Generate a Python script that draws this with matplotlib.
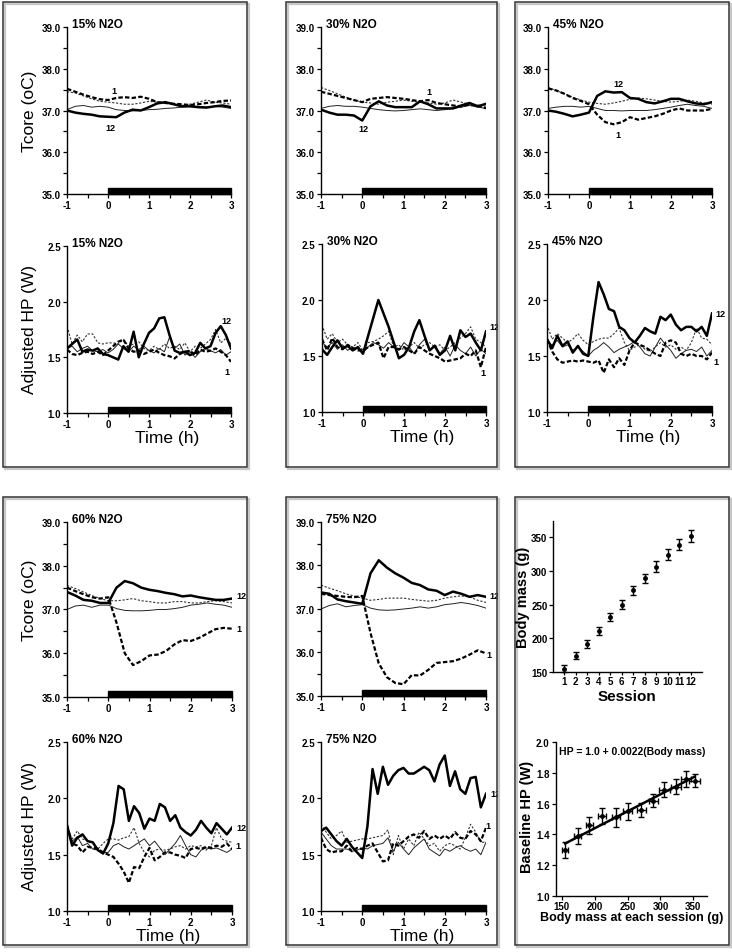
import numpy as np
import matplotlib
matplotlib.use('Agg')
import matplotlib.pyplot as plt
import matplotlib.transforms as mtransforms
from matplotlib.patches import Rectangle

plt.rcParams['font.family'] = ['Liberation Sans', 'DejaVu Sans']
plt.rcParams['axes.unicode_minus'] = False

# ---------------- data ----------------
# time grid of the core temperature traces (h)
t_core = [-1.0, -0.8, -0.6, -0.4, -0.2, 0.0, 0.2, 0.4, 0.6, 0.8, 1.0,
          1.2, 1.4, 1.6, 1.8, 2.0, 2.2, 2.4, 2.6, 2.8, 3.0]
# time grid of the heat production traces (h)
t_hp = [-1.0, -0.875, -0.75, -0.625, -0.5, -0.375, -0.25, -0.125, 0.0,
        0.125, 0.25, 0.375, 0.5, 0.625, 0.75, 0.875, 1.0, 1.125, 1.25,
        1.375, 1.5, 1.625, 1.75, 1.875, 2.0, 2.125, 2.25, 2.375, 2.5,
        2.625, 2.75, 2.875, 3.0]

# s1 = session 1 (thick dashed), s12 = session 12 (thick solid),
# c1 / c12 = thin dashed / thin solid traces
tc15_s1 = [37.52, 37.45, 37.38, 37.32, 37.27, 37.25, 37.30, 37.32, 37.30, 37.33, 37.28,
           37.20, 37.18, 37.16, 37.15, 37.13, 37.15, 37.18, 37.20, 37.23, 37.24]
tc15_c1 = [37.45, 37.42, 37.35, 37.28, 37.22, 37.20, 37.18, 37.15, 37.15, 37.18, 37.22,
           37.20, 37.18, 37.15, 37.12, 37.15, 37.20, 37.25, 37.20, 37.18, 37.15]
tc15_s12 = [37.00, 36.95, 36.92, 36.90, 36.86, 36.85, 36.84, 36.95, 37.02, 37.00, 37.08,
            37.17, 37.20, 37.15, 37.10, 37.10, 37.08, 37.07, 37.10, 37.12, 37.08]
tc15_c12 = [37.02, 37.10, 37.12, 37.08, 37.10, 37.08, 37.02, 37.00, 36.99, 37.00, 37.02,
            37.03, 37.05, 37.06, 37.08, 37.10, 37.10, 37.08, 37.10, 37.08, 37.05]

tc30_s1 = [37.45, 37.40, 37.35, 37.30, 37.25, 37.20, 37.28, 37.30, 37.32, 37.30, 37.28,
           37.25, 37.22, 37.25, 37.18, 37.15, 37.12, 37.10, 37.15, 37.12, 37.05]
tc30_c1 = [37.55, 37.48, 37.40, 37.32, 37.25, 37.20, 37.18, 37.15, 37.20, 37.22, 37.25,
           37.22, 37.20, 37.18, 37.15, 37.18, 37.25, 37.20, 37.15, 37.12, 37.10]
tc30_s12 = [37.02, 36.95, 36.90, 36.90, 36.88, 36.76, 37.10, 37.22, 37.12, 37.08, 37.08,
            37.08, 37.22, 37.15, 37.05, 37.05, 37.05, 37.12, 37.18, 37.10, 37.16]
tc30_c12 = [37.05, 37.10, 37.12, 37.10, 37.10, 37.08, 37.05, 37.02, 37.00, 36.99, 37.00,
            37.02, 37.04, 37.02, 37.00, 37.02, 37.05, 37.08, 37.12, 37.08, 37.05]

tc45_s1 = [37.53, 37.48, 37.40, 37.30, 37.23, 37.15, 36.90, 36.72, 36.67, 36.72, 36.84,
           36.78, 36.82, 36.86, 36.92, 37.00, 37.05, 37.00, 37.00, 37.00, 37.04]
tc45_c1 = [37.55, 37.48, 37.40, 37.32, 37.25, 37.20, 37.17, 37.15, 37.18, 37.22, 37.27,
           37.30, 37.28, 37.25, 37.22, 37.20, 37.22, 37.25, 37.22, 37.18, 37.15]
tc45_s12 = [37.00, 36.97, 36.92, 36.86, 36.90, 36.95, 37.35, 37.46, 37.43, 37.44, 37.30,
            37.28, 37.20, 37.17, 37.22, 37.28, 37.28, 37.22, 37.17, 37.15, 37.20]
tc45_c12 = [37.05, 37.08, 37.10, 37.10, 37.08, 37.10, 37.05, 37.00, 37.00, 36.99, 37.00,
            37.00, 37.00, 37.02, 37.05, 37.08, 37.12, 37.15, 37.12, 37.10, 37.05]

tc60_s1 = [37.50, 37.42, 37.35, 37.28, 37.25, 37.28, 36.70, 36.00, 35.73, 35.82, 35.95,
           35.97, 36.05, 36.20, 36.30, 36.28, 36.35, 36.45, 36.55, 36.58, 36.56]
tc60_c1 = [37.55, 37.48, 37.40, 37.32, 37.25, 37.20, 37.20, 37.22, 37.25, 37.20, 37.18,
           37.15, 37.15, 37.18, 37.18, 37.15, 37.15, 37.18, 37.20, 37.18, 37.15]
tc60_s12 = [37.40, 37.32, 37.22, 37.20, 37.15, 37.15, 37.50, 37.65, 37.60, 37.50, 37.45,
            37.42, 37.38, 37.35, 37.30, 37.32, 37.28, 37.25, 37.22, 37.22, 37.25]
tc60_c12 = [37.00, 37.08, 37.10, 37.05, 37.10, 37.10, 37.02, 36.98, 36.97, 36.97, 36.98,
            37.00, 37.00, 37.02, 37.05, 37.10, 37.12, 37.15, 37.12, 37.10, 37.05]

tc75_s1 = [37.35, 37.32, 37.30, 37.28, 37.27, 37.30, 36.45, 35.75, 35.43, 35.30, 35.27,
           35.48, 35.47, 35.60, 35.76, 35.78, 35.80, 35.86, 35.95, 36.05, 35.98]
tc75_c1 = [37.55, 37.48, 37.42, 37.35, 37.30, 37.25, 37.20, 37.22, 37.25, 37.25, 37.25,
           37.22, 37.20, 37.18, 37.20, 37.25, 37.28, 37.30, 37.28, 37.20, 37.15]
tc75_s12 = [37.38, 37.35, 37.22, 37.18, 37.15, 37.12, 37.82, 38.12, 37.95, 37.82, 37.72,
            37.60, 37.55, 37.45, 37.42, 37.32, 37.40, 37.35, 37.28, 37.32, 37.28]
tc75_c12 = [37.00, 37.08, 37.12, 37.05, 37.08, 37.10, 37.02, 36.98, 36.97, 36.98, 37.00,
            37.02, 37.05, 37.02, 37.05, 37.10, 37.12, 37.15, 37.12, 37.08, 37.02]

hp15_s12 = [1.58, 1.62, 1.66, 1.55, 1.57, 1.56, 1.58, 1.53, 1.52, 1.50, 1.48, 1.60, 1.55, 1.73, 1.50, 1.62, 1.72,
            1.76, 1.85, 1.86, 1.70, 1.56, 1.54, 1.55, 1.52, 1.54, 1.63, 1.58, 1.60, 1.72, 1.78, 1.70, 1.58]
hp15_s1 = [1.57, 1.53, 1.52, 1.54, 1.55, 1.53, 1.55, 1.52, 1.56, 1.60, 1.64, 1.66, 1.58, 1.55, 1.56, 1.53, 1.55,
           1.57, 1.54, 1.52, 1.51, 1.49, 1.53, 1.55, 1.56, 1.52, 1.57, 1.55, 1.56, 1.58, 1.55, 1.52, 1.46]
hp15_c1 = [1.78, 1.62, 1.70, 1.64, 1.71, 1.71, 1.63, 1.62, 1.63, 1.63, 1.62, 1.66, 1.60, 1.62, 1.64, 1.58, 1.56,
           1.60, 1.57, 1.62, 1.58, 1.60, 1.57, 1.63, 1.55, 1.60, 1.58, 1.62, 1.66, 1.75, 1.63, 1.67, 1.62]
hp15_c12 = [1.58, 1.60, 1.55, 1.58, 1.60, 1.56, 1.55, 1.57, 1.54, 1.57, 1.62, 1.58, 1.55, 1.60, 1.57, 1.60, 1.56,
            1.54, 1.58, 1.55, 1.68, 1.58, 1.62, 1.52, 1.55, 1.50, 1.55, 1.58, 1.56, 1.54, 1.57, 1.52, 1.55]

hp30_s12 = [1.56, 1.51, 1.58, 1.64, 1.57, 1.59, 1.55, 1.58, 1.52, 1.68, 1.84, 2.00, 1.88, 1.76, 1.62, 1.48, 1.51,
            1.58, 1.72, 1.82, 1.68, 1.55, 1.59, 1.51, 1.55, 1.68, 1.55, 1.73, 1.67, 1.70, 1.62, 1.55, 1.72]
hp30_s1 = [1.65, 1.55, 1.66, 1.58, 1.56, 1.60, 1.57, 1.55, 1.55, 1.58, 1.60, 1.62, 1.48, 1.58, 1.58, 1.56, 1.58,
           1.55, 1.52, 1.58, 1.55, 1.52, 1.50, 1.48, 1.45, 1.46, 1.47, 1.48, 1.52, 1.50, 1.55, 1.40, 1.58]
hp30_c1 = [1.78, 1.65, 1.70, 1.62, 1.65, 1.60, 1.58, 1.62, 1.55, 1.62, 1.63, 1.65, 1.68, 1.72, 1.58, 1.60, 1.55,
           1.58, 1.62, 1.57, 1.60, 1.62, 1.58, 1.60, 1.55, 1.58, 1.62, 1.66, 1.70, 1.76, 1.65, 1.62, 1.58]
hp30_c12 = [1.62, 1.58, 1.62, 1.56, 1.60, 1.55, 1.58, 1.56, 1.53, 1.58, 1.62, 1.60, 1.57, 1.62, 1.58, 1.55, 1.62,
            1.58, 1.52, 1.60, 1.65, 1.55, 1.60, 1.52, 1.58, 1.50, 1.60, 1.55, 1.52, 1.58, 1.50, 1.56, 1.52]

hp45_s12 = [1.65, 1.57, 1.68, 1.59, 1.63, 1.53, 1.59, 1.52, 1.50, 1.85, 2.16, 2.05, 1.92, 1.90, 1.76, 1.73, 1.66,
            1.62, 1.68, 1.75, 1.72, 1.70, 1.85, 1.82, 1.87, 1.78, 1.73, 1.76, 1.76, 1.72, 1.76, 1.68, 1.88]
hp45_s1 = [1.65, 1.54, 1.47, 1.44, 1.45, 1.46, 1.45, 1.46, 1.45, 1.44, 1.46, 1.35, 1.47, 1.40, 1.48, 1.42, 1.55,
           1.62, 1.60, 1.58, 1.55, 1.52, 1.50, 1.62, 1.64, 1.62, 1.52, 1.50, 1.52, 1.50, 1.50, 1.47, 1.53]
hp45_c1 = [1.78, 1.65, 1.70, 1.66, 1.62, 1.65, 1.70, 1.64, 1.60, 1.63, 1.65, 1.66, 1.66, 1.70, 1.75, 1.62, 1.55,
           1.58, 1.60, 1.56, 1.54, 1.58, 1.62, 1.58, 1.60, 1.56, 1.58, 1.55, 1.62, 1.75, 1.66, 1.65, 1.60]
hp45_c12 = [1.62, 1.60, 1.64, 1.58, 1.60, 1.55, 1.58, 1.54, 1.50, 1.55, 1.58, 1.62, 1.58, 1.53, 1.56, 1.58, 1.60,
            1.63, 1.58, 1.52, 1.50, 1.58, 1.66, 1.60, 1.55, 1.48, 1.52, 1.55, 1.56, 1.54, 1.58, 1.50, 1.55]

hp60_s12 = [1.76, 1.58, 1.65, 1.68, 1.62, 1.61, 1.54, 1.51, 1.60, 1.78, 2.11, 2.08, 1.80, 1.93, 1.87, 1.73, 1.82,
            1.80, 1.95, 1.92, 1.80, 1.85, 1.74, 1.70, 1.67, 1.72, 1.80, 1.74, 1.69, 1.78, 1.73, 1.68, 1.74]
hp60_s1 = [1.76, 1.60, 1.58, 1.52, 1.57, 1.56, 1.55, 1.52, 1.50, 1.48, 1.42, 1.35, 1.25, 1.39, 1.38, 1.48, 1.56,
           1.45, 1.48, 1.52, 1.52, 1.50, 1.49, 1.47, 1.55, 1.56, 1.55, 1.57, 1.56, 1.58, 1.57, 1.60, 1.55]
hp60_c1 = [1.74, 1.64, 1.71, 1.64, 1.62, 1.60, 1.55, 1.60, 1.64, 1.64, 1.63, 1.65, 1.66, 1.74, 1.60, 1.52, 1.48,
           1.54, 1.55, 1.54, 1.55, 1.57, 1.58, 1.55, 1.58, 1.57, 1.58, 1.54, 1.58, 1.74, 1.64, 1.62, 1.61]
hp60_c12 = [1.76, 1.62, 1.66, 1.58, 1.60, 1.55, 1.54, 1.52, 1.52, 1.58, 1.60, 1.57, 1.55, 1.58, 1.61, 1.64, 1.58,
            1.62, 1.56, 1.50, 1.55, 1.60, 1.67, 1.58, 1.50, 1.48, 1.54, 1.56, 1.55, 1.56, 1.54, 1.52, 1.55]

hp75_s12 = [1.71, 1.74, 1.68, 1.62, 1.58, 1.64, 1.57, 1.52, 1.47, 1.75, 2.26, 2.04, 2.28, 2.12, 2.20, 2.25, 2.27,
            2.22, 2.22, 2.25, 2.28, 2.25, 2.15, 2.30, 2.38, 2.11, 2.24, 2.08, 2.04, 2.18, 2.19, 1.92, 2.04]
hp75_s1 = [1.65, 1.55, 1.52, 1.53, 1.53, 1.58, 1.53, 1.56, 1.55, 1.58, 1.60, 1.52, 1.44, 1.45, 1.60, 1.58, 1.62,
           1.66, 1.68, 1.65, 1.71, 1.64, 1.67, 1.64, 1.67, 1.64, 1.70, 1.65, 1.64, 1.71, 1.68, 1.62, 1.74]
hp75_c1 = [1.77, 1.70, 1.64, 1.67, 1.71, 1.61, 1.62, 1.63, 1.64, 1.64, 1.65, 1.66, 1.67, 1.72, 1.50, 1.67, 1.55,
           1.64, 1.58, 1.70, 1.64, 1.58, 1.60, 1.53, 1.58, 1.60, 1.58, 1.55, 1.65, 1.77, 1.70, 1.61, 1.61]
hp75_c12 = [1.70, 1.64, 1.58, 1.55, 1.55, 1.55, 1.53, 1.54, 1.56, 1.55, 1.58, 1.59, 1.60, 1.65, 1.53, 1.61, 1.55,
            1.50, 1.56, 1.60, 1.64, 1.55, 1.52, 1.49, 1.55, 1.53, 1.56, 1.58, 1.55, 1.53, 1.55, 1.50, 1.61]

# session labels written beside the traces: (text, time, value)
lab_tc15 = [('1', 0.14, 37.48), ('12', 0.05, 36.60)]
lab_tc30 = [('1', 1.61, 37.45), ('12', 0.03, 36.56)]
lab_tc45 = [('12', 0.71, 37.64), ('1', 0.71, 36.42)]
lab_tc60 = [('12', 3.10, 37.33), ('1', 3.10, 36.56)]
lab_tc75 = [('12', 3.09, 37.30), ('1', 3.02, 35.95)]
lab_hp15 = [('12', 2.90, 1.83), ('1', 2.90, 1.37)]
lab_hp30 = [('12', 3.08, 1.76), ('1', 2.92, 1.35)]
lab_hp45 = [('12', 3.08, 1.88), ('1', 3.04, 1.45)]
lab_hp60 = [('12', 3.10, 1.74), ('1', 3.08, 1.58)]
lab_hp75 = [('12', 3.10, 2.04), ('1', 2.98, 1.76)]

# N2O exposure period (h)
n2o_start, n2o_end = 0, 3

# body mass per session
sessions = [1, 2, 3, 4, 5, 6, 7, 8, 9, 10, 11, 12]
body_mass = [155, 174, 192, 211, 232, 250, 271, 289, 306, 324, 339, 352]
body_mass_err = [5, 5, 6, 6, 6, 7, 7, 7, 8, 8, 8, 9]

# baseline heat production vs body mass
baseline_hp = [1.30, 1.39, 1.46, 1.52, 1.51, 1.55, 1.56, 1.62, 1.69, 1.71, 1.76, 1.75]
baseline_hp_err = [0.05, 0.05, 0.055, 0.05, 0.06, 0.055, 0.045, 0.04, 0.05, 0.05, 0.05, 0.04]
fit_a, fit_b = 1.0, 0.0022

# ---------------- drawing ----------------
W, H = 732, 953
fig = plt.figure(figsize=(W / 100, H / 100), dpi=100)


def px_axes(l, t, r, b):
    # axes from pixel box (left, top, right, bottom)
    return fig.add_axes([l / W, 1 - b / H, (r - l) / W, (b - t) / H])


def frame(l, t, r, b):
    fig.add_artist(Rectangle(((l + 2) / W, 1 - (b + 2) / H), (r - l) / W, (b - t) / H,
                             transform=fig.transFigure, fill=False, lw=1.6, ec='#c8c8c8'))
    fig.add_artist(Rectangle((l / W, 1 - b / H), (r - l) / W, (b - t) / H,
                             transform=fig.transFigure, fill=False, lw=1.1, ec='#333333'))


def basic_axes(ax):
    for s in ['top', 'right']:
        ax.spines[s].set_visible(False)
    for s in ['left', 'bottom']:
        ax.spines[s].set_linewidth(1.0)
    ax.tick_params(which='both', direction='out', length=3, width=0.9, pad=1.5,
                   labelsize=7)
    for lbl in ax.get_xticklabels() + ax.get_yticklabels():
        lbl.set_fontweight('bold')


def time_panel(ax, t, s1, s12, c1, c12, ylim, yticks, yminor, fmt, title, labels, xlabel=False):
    ax.plot(t, c12, color='#222222', lw=0.7, ls='-')
    ax.plot(t, c1, color='#333333', lw=0.8, ls=(0, (2, 1.5)))
    ax.plot(t, s12, color='black', lw=1.8, ls='-')
    ax.plot(t, s1, color='black', lw=1.6, ls=(0, (2, 1)))
    ax.set_xlim(-1, 3)
    ax.set_ylim(*ylim)
    ax.set_xticks([-1, 0, 1, 2, 3])
    ax.set_xticks([-0.5, 0.5, 1.5, 2.5], minor=True)
    ax.set_yticks(yticks)
    ax.set_yticklabels([fmt % v for v in yticks])
    ax.set_yticks(yminor, minor=True)
    basic_axes(ax)
    trans = mtransforms.blended_transform_factory(ax.transData, ax.transAxes)
    ax.add_patch(Rectangle((n2o_start, 0), n2o_end - n2o_start, 0.035, transform=trans,
                           color='black', clip_on=False, zorder=5))
    ax.text(0.03, 1.0, title, transform=ax.transAxes, fontsize=8.5, fontweight='bold',
            va='baseline', ha='left')
    for txt, x, y in labels:
        ax.text(x, y, txt, fontsize=6.5, fontweight='bold', ha='left' if x > 2.95 else 'center',
                va='center', clip_on=False)
    if xlabel:
        ax.text(1.45, -0.145, 'Time (h)', transform=trans, fontsize=12.5, ha='center', va='center')


tc_kw = dict(ylim=(35, 39), yticks=[35, 36, 37, 38, 39],
             yminor=[35.5, 36.5, 37.5, 38.5], fmt='%.1f')
hp_kw = dict(ylim=(1.0, 2.5), yticks=[1.0, 1.5, 2.0, 2.5], yminor=[], fmt='%.1f')

# frames
frame(3, 3, 247, 468)
frame(286, 3, 497, 468)
frame(515, 3, 729, 468)
frame(3, 498, 247, 946)
frame(286, 498, 497, 946)
frame(515, 498, 729, 946)

# top row
time_panel(px_axes(67, 28, 231, 195), t_core, tc15_s1, tc15_s12, tc15_c1, tc15_c12,
           title='15% N2O', labels=lab_tc15, **tc_kw)
time_panel(px_axes(321, 28, 486, 195), t_core, tc30_s1, tc30_s12, tc30_c1, tc30_c12,
           title='30% N2O', labels=lab_tc30, **tc_kw)
time_panel(px_axes(548, 28, 712, 195), t_core, tc45_s1, tc45_s12, tc45_c1, tc45_c12,
           title='45% N2O', labels=lab_tc45, **tc_kw)
time_panel(px_axes(67, 247, 231, 414), t_hp, hp15_s1, hp15_s12, hp15_c1, hp15_c12,
           title='15% N2O', labels=lab_hp15, xlabel=True, **hp_kw)
time_panel(px_axes(322, 245, 486, 413), t_hp, hp30_s1, hp30_s12, hp30_c1, hp30_c12,
           title='30% N2O', labels=lab_hp30, xlabel=True, **hp_kw)
time_panel(px_axes(547, 245, 712, 413), t_hp, hp45_s1, hp45_s12, hp45_c1, hp45_c12,
           title='45% N2O', labels=lab_hp45, xlabel=True, **hp_kw)

# bottom row
time_panel(px_axes(67, 523, 232, 698), t_core, tc60_s1, tc60_s12, tc60_c1, tc60_c12,
           title='60% N2O', labels=lab_tc60, **tc_kw)
time_panel(px_axes(321, 523, 486, 697), t_core, tc75_s1, tc75_s12, tc75_c1, tc75_c12,
           title='75% N2O', labels=lab_tc75, **tc_kw)
time_panel(px_axes(67, 743, 232, 912), t_hp, hp60_s1, hp60_s12, hp60_c1, hp60_c12,
           title='60% N2O', labels=lab_hp60, xlabel=True, **hp_kw)
time_panel(px_axes(321, 743, 486, 912), t_hp, hp75_s1, hp75_s12, hp75_c1, hp75_c12,
           title='75% N2O', labels=lab_hp75, xlabel=True, **hp_kw)

# y labels of the left column
fig.text(30 / W, 1 - 111 / H, 'Tcore (oC)', rotation=90, fontsize=12.5, ha='center', va='center')
fig.text(30 / W, 1 - 330 / H, 'Adjusted HP (W)', rotation=90, fontsize=12.5, ha='center', va='center')
fig.text(30 / W, 1 - 600 / H, 'Tcore (oC)', rotation=90, fontsize=12.5, ha='center', va='center')
fig.text(30 / W, 1 - 827 / H, 'Adjusted HP (W)', rotation=90, fontsize=12.5, ha='center', va='center')

# body mass by session
ax = px_axes(553, 522, 702, 673)
ax.errorbar(sessions, body_mass, yerr=body_mass_err, fmt='o', ms=2.5, color='black',
            ecolor='black', elinewidth=1.0, capsize=2, capthick=1.0, clip_on=False)
ax.set_xlim(0.05, 12.95)
ax.set_ylim(150, 374)
ax.set_xticks(sessions)
ax.set_yticks([150, 200, 250, 300, 350])
basic_axes(ax)
ax.tick_params(axis='x', length=2, pad=1)
ax.tick_params(axis='y', pad=1)
for lbl in ax.get_xticklabels():
    lbl.set_fontweight('bold')
fig.text(627 / W, 1 - 697 / H, 'Session', fontsize=11, fontweight='bold', ha='center', va='center')
fig.text(523 / W, 1 - 597 / H, 'Body mass (g)', rotation=90, fontsize=10.5, fontweight='bold',
         ha='center', va='center')

# baseline heat production against body mass
ax = px_axes(556, 743, 707, 897)
ax.errorbar(body_mass, baseline_hp, xerr=body_mass_err, yerr=baseline_hp_err, fmt='o', ms=2.5,
            color='black', ecolor='black', elinewidth=1.0, capsize=2, capthick=1.0)
fit_x = np.array([body_mass[0], body_mass[-1]])
ax.plot(fit_x, fit_a + fit_b * fit_x, color='black', lw=1.8)
ax.set_xlim(141, 371)
ax.set_ylim(1.0, 2.0)
ax.set_xticks([150, 200, 250, 300, 350])
ax.set_yticks([1.0, 1.2, 1.4, 1.6, 1.8, 2.0])
ax.set_yticklabels(['%.1f' % v for v in [1.0, 1.2, 1.4, 1.6, 1.8, 2.0]])
basic_axes(ax)
ax.tick_params(axis='x', pad=0.5)
ax.text(0.02, 0.94, 'HP = 1.0 + 0.0022(Body mass)', transform=ax.transAxes, fontsize=7.5,
        fontweight='bold', ha='left', va='center')
fig.text(632 / W, 1 - 918 / H, 'Body mass at each session (g)', fontsize=9, fontweight='bold',
         ha='center', va='center')
fig.text(527 / W, 1 - 817 / H, 'Baseline HP (W)', rotation=90, fontsize=10.5, fontweight='bold',
         ha='center', va='center')

fig.savefig('out.png', dpi=100)
